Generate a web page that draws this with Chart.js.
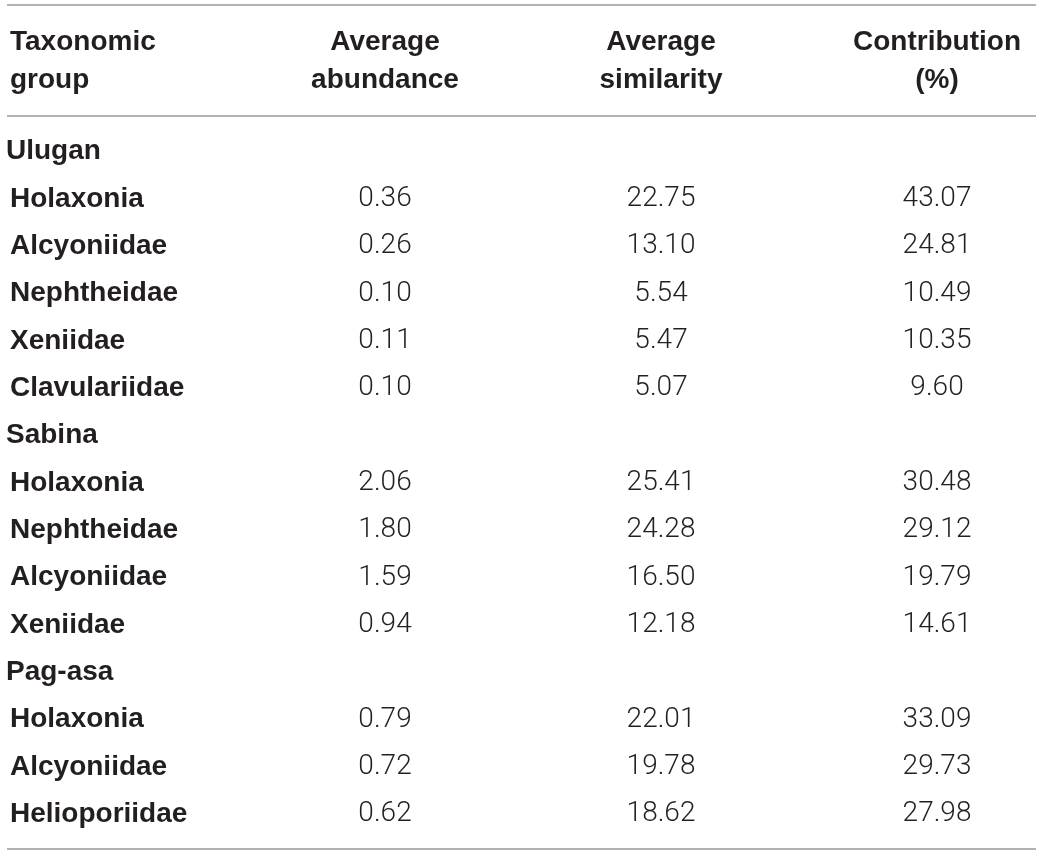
<!DOCTYPE html>
<html>
<head>
<meta charset="utf-8">
<script src="https://cdn.jsdelivr.net/npm/chart.js@4"></script>
<style>
  html, body { margin: 0; padding: 0; background: #fff; }
  #wrap { width: 1043px; height: 856px; position: relative; }
</style>
</head>
<body>
<div id="wrap"><canvas id="table"></canvas></div>
<script>
// table rows, top to bottom
var rowLabels = ['Ulugan', 'Holaxonia', 'Alcyoniidae', 'Nephtheidae', 'Xeniidae', 'Clavulariidae',
  'Sabina', 'Holaxonia', 'Nephtheidae', 'Alcyoniidae', 'Xeniidae',
  'Pag-asa', 'Holaxonia', 'Alcyoniidae', 'Helioporiidae'];
var siteRows = [0, 6, 11];

var headers = [['Taxonomic', 'group'], ['Average', 'abundance'], ['Average', 'similarity'], ['Contribution', '(%)']];

var abundance = [null, 0.36, 0.26, 0.10, 0.11, 0.10, null, 2.06, 1.80, 1.59, 0.94, null, 0.79, 0.72, 0.62];
var similarity = [null, 22.75, 13.10, 5.54, 5.47, 5.07, null, 25.41, 24.28, 16.50, 12.18, null, 22.01, 19.78, 18.62];
var contribution = [null, 43.07, 24.81, 10.49, 10.35, 9.60, null, 30.48, 29.12, 19.79, 14.61, null, 33.09, 29.73, 27.98];

var BOLD = 'bold 28px "Liberation Sans", Arial, sans-serif';
var LIGHT = '300 28px Roboto, "Liberation Sans", sans-serif';
var INK = '#231f20';
var RULE = '#9a9a9a';

function column(values, col) {
  var pts = [];
  values.forEach(function (v, i) {
    if (v !== null) pts.push({ x: col, y: i, v: v });
  });
  return pts;
}

var tablePlugin = {
  id: 'tableText',
  afterDatasetsDraw: function (chart) {
    var ctx = chart.ctx;
    var xs = chart.scales.x, ys = chart.scales.y;
    var W = chart.width;
    ctx.save();

    // rules
    ctx.strokeStyle = RULE;
    ctx.lineWidth = 1.6;
    [5, 116, 849].forEach(function (y) {
      ctx.beginPath();
      ctx.moveTo(7, y);
      ctx.lineTo(W - 7, y);
      ctx.stroke();
    });

    // header
    ctx.fillStyle = INK;
    ctx.font = BOLD;
    ctx.textBaseline = 'middle';
    headers.forEach(function (h, c) {
      var x = c === 0 ? 10 : xs.getPixelForValue(c);
      ctx.textAlign = c === 0 ? 'left' : 'center';
      ctx.fillText(h[0], x, 42);
      ctx.fillText(h[1], x, 80);
    });

    // row names
    ctx.textAlign = 'left';
    rowLabels.forEach(function (name, i) {
      var isSite = siteRows.indexOf(i) >= 0;
      ctx.fillText(name, isSite ? 6 : 10, ys.getPixelForValue(i));
    });

    // numeric cells
    ctx.font = LIGHT;
    ctx.textAlign = 'center';
    chart.data.datasets.forEach(function (ds, di) {
      var meta = chart.getDatasetMeta(di);
      meta.data.forEach(function (el, j) {
        ctx.fillText(ds.data[j].v.toFixed(2), el.x, el.y);
      });
    });
    ctx.restore();
  }
};

new Chart(document.getElementById('table'), {
  type: 'scatter',
  data: {
    datasets: [
      { label: 'Average abundance', data: column(abundance, 1), pointRadius: 0 },
      { label: 'Average similarity', data: column(similarity, 2), pointRadius: 0 },
      { label: 'Contribution (%)', data: column(contribution, 3), pointRadius: 0 }
    ]
  },
  options: {
    responsive: true,
    maintainAspectRatio: false,
    animation: false,
    layout: { padding: { top: 128, bottom: 18, left: 0, right: 0 } },
    plugins: { legend: { display: false }, tooltip: { enabled: false } },
    scales: {
      x: { type: 'linear', min: -0.395, max: 3.384, display: false },
      y: { type: 'linear', min: -0.5, max: rowLabels.length - 0.5, reverse: true, display: false }
    }
  },
  plugins: [tablePlugin]
});
</script>
</body>
</html>
